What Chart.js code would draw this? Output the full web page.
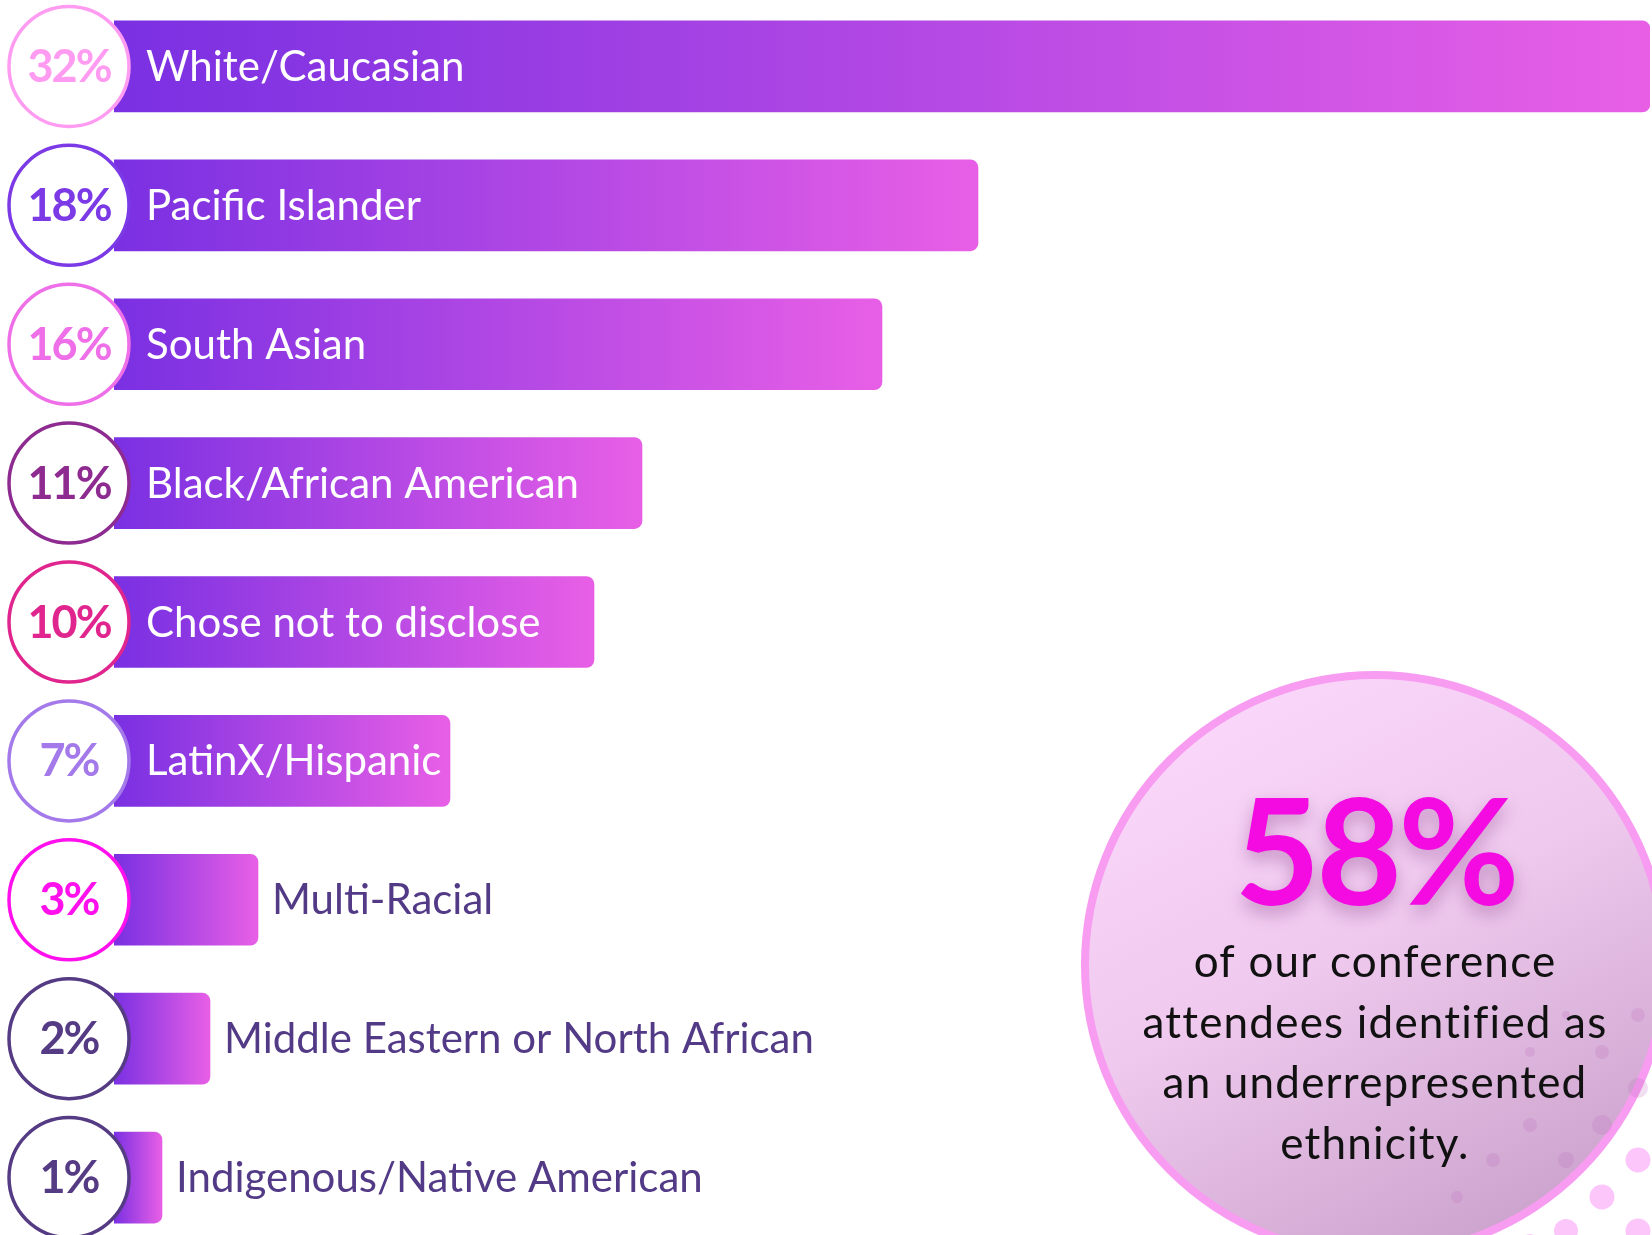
<!DOCTYPE html>
<html>
<head>
<meta charset="utf-8">
<script src="https://cdn.jsdelivr.net/npm/chart.js@4.4.0/dist/chart.umd.min.js"></script>
<style>
  html, body { margin: 0; padding: 0; background: #fff; overflow: hidden; }
  #wrap { position: absolute; left: 0; top: -3px; width: 1652px; height: 1250px; }
</style>
</head>
<body>
<div id="wrap"><canvas id="ethnicityChart" width="1652" height="1250"></canvas></div>
<script>
// data
var categories = ['White/Caucasian', 'Pacific Islander', 'South Asian', 'Black/African American',
    'Chose not to disclose', 'LatinX/Hispanic', 'Multi-Racial', 'Middle Eastern or North African',
    'Indigenous/Native American'];
var shares = [32, 18, 16, 11, 10, 7, 3, 2, 1];
var headlineShare = 58;
var headlineLines = ['of our conference', 'attendees identified as', 'an underrepresented', 'ethnicity.'];

// ring / percent colours, one per row
var ringColors = ['#ff9cf2', '#7b3ae6', '#ee6fe8', '#8e2b91', '#e0268e', '#a47aea', '#ff10ec', '#553a84', '#553a84'];

var FONT = 'Lato, "Open Sans", sans-serif';

function barGradient(ctx) {
    var chart = ctx.chart;
    if (!chart.chartArea || ctx.dataIndex === undefined) return '#9b45e4';
    var x = chart.scales.x;
    var x0 = x.getPixelForValue(0);
    var x1 = x.getPixelForValue(shares[ctx.dataIndex]);
    var g = chart.ctx.createLinearGradient(x0, 0, x1, 0);
    g.addColorStop(0, '#7a30e2');
    g.addColorStop(1, '#e85fe6');
    return g;
}

var decorations = {
    id: 'decorations',
    beforeDatasetsDraw: function(chart) {
        var ctx = chart.ctx;
        ctx.save();
        // dotted pattern bottom right (canvas is shifted 3px up)
        var dots = [[1638, 1163, 12.5], [1602, 1200, 12.5], [1566, 1234, 12], [1638, 1234, 12.5], [1530, 1246, 9]];
        ctx.fillStyle = '#fcc6fb';
        dots.forEach(function(d) { ctx.beginPath(); ctx.arc(d[0], d[1], d[2], 0, Math.PI * 2); ctx.fill(); });

        // big callout circle
        var cx = 1375, cy = 968, r = 290;
        var g = ctx.createLinearGradient(cx - 150, cy - r, cx + 150, cy + r);
        g.addColorStop(0, '#fbd8fb');
        g.addColorStop(0.45, '#efc9ee');
        g.addColorStop(1, '#c9a0ca');
        ctx.beginPath();
        ctx.arc(cx, cy, r, 0, Math.PI * 2);
        ctx.fillStyle = g;
        ctx.fill();
        ctx.lineWidth = 8;
        ctx.strokeStyle = '#f89cf1';
        ctx.stroke();

        // faint dots showing through the circle
        var faint = [[1638, 1018, 7], [1602, 1055, 7], [1566, 1018, 4], [1530, 1055, 5], [1638, 1091, 10],
            [1602, 1128, 10], [1530, 1128, 7], [1566, 1163, 8], [1493, 1163, 7], [1457, 1200, 6]];
        ctx.fillStyle = 'rgba(190, 110, 190, 0.22)';
        faint.forEach(function(d) { ctx.beginPath(); ctx.arc(d[0], d[1], d[2], 0, Math.PI * 2); ctx.fill(); });

        ctx.textAlign = 'center';
        ctx.textBaseline = 'alphabetic';
        ctx.save();
        ctx.shadowColor = 'rgba(110, 30, 110, 0.35)';
        ctx.shadowBlur = 18;
        ctx.shadowOffsetY = 8;
        ctx.fillStyle = '#f30be2';
        ctx.font = 'bold 148px ' + FONT;
        ctx.letterSpacing = '-4px';
        ctx.fillText(headlineShare + '%', cx, 908);
        ctx.restore();

        ctx.fillStyle = '#111111';
        ctx.font = '44px ' + FONT;
        ctx.letterSpacing = '1.2px';
        var baseY = 980;
        headlineLines.forEach(function(t, i) { ctx.fillText(t, cx, baseY + i * 60.5); });
        ctx.letterSpacing = '0px';
        ctx.restore();
    },
    afterDatasetsDraw: function(chart) {
        var ctx = chart.ctx;
        var meta = chart.getDatasetMeta(0);
        ctx.save();
        meta.data.forEach(function(bar, i) {
            var y = bar.y;
            var cx = 69;
            // category label: inside the bar when it fits, else after it
            ctx.font = '42px ' + FONT;
            ctx.textBaseline = 'middle';
            ctx.textAlign = 'left';
            var w = ctx.measureText(categories[i]).width;
            if (146 + w <= bar.x) {
                ctx.fillStyle = '#ffffff';
                ctx.fillText(categories[i], 146, y + 1);
            } else {
                ctx.fillStyle = '#523a86';
                ctx.fillText(categories[i], bar.x + 14, y + 1);
            }
            // ring with percentage
            ctx.beginPath();
            ctx.arc(cx, y, 60, 0, Math.PI * 2);
            ctx.fillStyle = '#ffffff';
            ctx.fill();
            ctx.lineWidth = 3.5;
            ctx.strokeStyle = ringColors[i];
            ctx.stroke();
            ctx.fillStyle = ringColors[i];
            ctx.font = 'bold 45px ' + FONT;
            ctx.textAlign = 'center';
            ctx.letterSpacing = '-2px';
            ctx.fillText(shares[i] + '%', cx, y + 1);
            ctx.letterSpacing = '0px';
        });
        ctx.restore();
    }
};

var chart = new Chart(document.getElementById('ethnicityChart').getContext('2d'), {
    type: 'bar',
    data: {
        labels: categories,
        datasets: [{
            data: shares,
            backgroundColor: barGradient,
            borderRadius: 8,
            borderSkipped: 'start',
            barThickness: 91
        }]
    },
    options: {
        indexAxis: 'y',
        responsive: false,
        animation: false,
        devicePixelRatio: 1,
        layout: { padding: { left: 114, right: 2, top: 0, bottom: 0 } },
        plugins: { legend: { display: false }, tooltip: { enabled: false }, title: { display: false } },
        scales: {
            x: { display: false, min: 0, max: 32 },
            y: { display: false }
        }
    },
    plugins: [decorations]
});
</script>
</body>
</html>
